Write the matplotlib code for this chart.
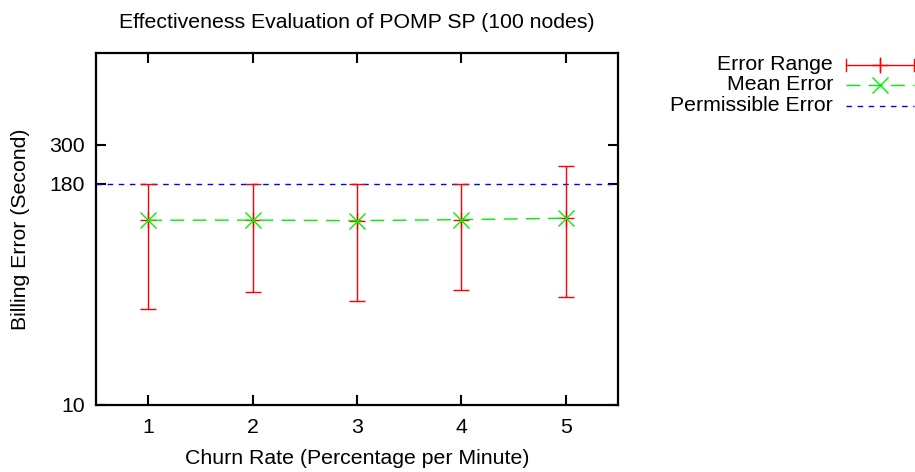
import matplotlib
matplotlib.use("Agg")
import matplotlib.pyplot as plt
from matplotlib.lines import Line2D
from matplotlib.ticker import FixedLocator, NullLocator, FixedFormatter

plt.rcParams['font.family'] = ['Liberation Sans', 'DejaVu Sans']

churn_rate = [1, 2, 3, 4, 5]
mean_error = [111.8, 112.0, 111.2, 112.7, 114.8]
error_low = [34.8, 43.9, 38.8, 44.8, 40.8]
error_high = [180, 180, 180, 180, 228.6]
permissible_error = 180
y_ticks = [10, 180, 300]
x_ticks = [1, 2, 3, 4, 5]

W, H = 915, 472
fig = plt.figure(figsize=(W / 100, H / 100), dpi=100)
L, R, T, B = 96, 618, 53, 404.5
ax = fig.add_axes([L / W, 1 - B / H, (R - L) / W, (B - T) / H])

ax.set_yscale('log')
ax.set_xlim(0.5, 5.5)
ax.set_ylim(10, 1000)

fs = 15.3
GREEN = '#00f000'
# permissible error
ax.axhline(permissible_error, color='#0000ff', lw=1.0, dashes=(4, 4), zorder=2)

# error bars
yerr = [[m - lo for m, lo in zip(mean_error, error_low)],
        [hi - m for m, hi in zip(mean_error, error_high)]]
ax.errorbar(churn_rate, mean_error, yerr=yerr, fmt='+', color='#ff0000',
            ecolor='#ff0000', elinewidth=1.0, capsize=5.8, capthick=1.0,
            markersize=12, markeredgewidth=1.0, zorder=3)

# mean error line
ax.plot(churn_rate, mean_error, color=GREEN, lw=1.0, dashes=(10, 6),
        marker='x', markersize=11, markeredgewidth=1.0, zorder=4)

ax.yaxis.set_major_locator(FixedLocator(y_ticks))
ax.yaxis.set_major_formatter(FixedFormatter([str(v) for v in y_ticks]))
ax.yaxis.set_minor_locator(NullLocator())
ax.set_xticks(x_ticks)
ax.set_xticklabels([str(v) for v in x_ticks])

ax.tick_params(axis='both', which='major', direction='in', length=7, width=1.5,
               top=True, right=True, labelsize=fs, colors='black')
ax.tick_params(axis='y', pad=8)
ax.tick_params(axis='x', pad=10)
for s in ax.spines.values():
    s.set_linewidth(1.6)

ax.set_title('Effectiveness Evaluation of POMP SP (100 nodes)', fontsize=fs, pad=18)
ax.set_xlabel('Churn Rate (Percentage per Minute)', fontsize=fs, labelpad=8)
ax.set_ylabel('Billing Error (Second)', fontsize=fs, labelpad=14)

# legend drawn manually
def fx(px):
    return px / W

def fy(py):
    return 1 - py / H

rows = [64.5, 85, 105.5]
labels = ['Error Range', 'Mean Error', 'Permissible Error']
x0, x1 = 846, 914
xc = (x0 + x1) / 2
for lab, y in zip(labels, rows):
    fig.text(fx(833), fy(y), lab, ha='right', va='center', fontsize=fs)

y = rows[0]
fig.add_artist(Line2D([fx(x0), fx(x1)], [fy(y), fy(y)], color='#ff0000', lw=1.0,
                      transform=fig.transFigure))
for xx in (x0, xc, x1):
    fig.add_artist(Line2D([fx(xx), fx(xx)], [fy(y - 6), fy(y + 6)], color='#ff0000',
                          lw=1.0, transform=fig.transFigure))
fig.add_artist(Line2D([fx(xc)], [fy(y)], color='#ff0000', marker='+', markersize=12,
                      lw=0, transform=fig.transFigure))
y = rows[1]
fig.add_artist(Line2D([fx(x0), fx(x1)], [fy(y), fy(y)], color=GREEN, lw=1.0,
                      dashes=(10, 6), transform=fig.transFigure))
fig.add_artist(Line2D([fx(xc)], [fy(y)], color=GREEN, marker='x', markersize=11,
                      lw=0, transform=fig.transFigure))
y = rows[2]
fig.add_artist(Line2D([fx(x0), fx(x1)], [fy(y), fy(y)], color='#0000ff', lw=1.0,
                      dashes=(4, 4), transform=fig.transFigure))

fig.savefig('out.png', dpi=100)
